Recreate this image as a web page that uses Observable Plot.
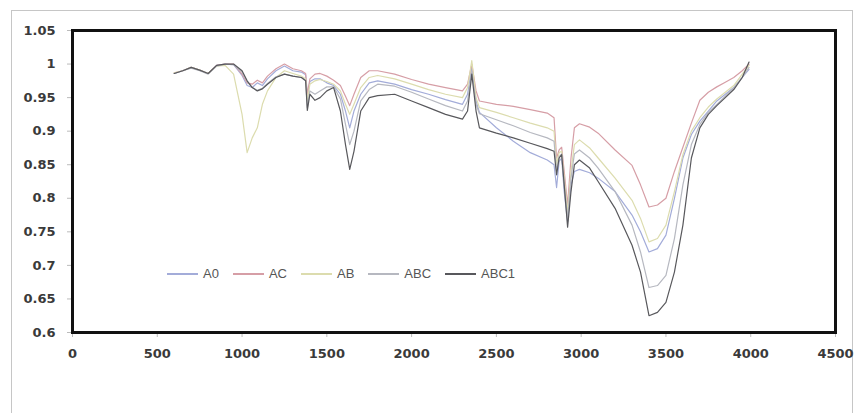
<!DOCTYPE html>
<html>
<head>
<meta charset="utf-8">
<script src="https://cdn.jsdelivr.net/npm/d3@7"></script>
<script src="https://cdn.jsdelivr.net/npm/@observablehq/plot@0.6"></script>
<style>
  html, body { margin: 0; padding: 0; background: #fff; }
  #wrap { position: relative; width: 860px; height: 413px; overflow: hidden; }
  #outer { position: absolute; left: 11px; top: 10px; width: 842px; height: 440px; border: 1px solid #c6c6c6; box-sizing: border-box; }
  #chart { position: absolute; left: 0; top: 0; }
  #legend { position: absolute; left: 167px; top: 266px; display: flex; gap: 14px; align-items: center;
            font-family: "Liberation Sans", Arial, sans-serif; font-size: 13px; color: #555; }
  #legend .item { display: flex; align-items: center; gap: 5px; }
  #legend .sw { display: inline-block; width: 31px; height: 2px; }
</style>
</head>
<body>
<div id="wrap">
  <div id="outer"></div>
  <div id="chart"></div>
  <div id="legend"></div>
</div>
<script>
const seriesNames = ["A0", "AC", "AB", "ABC", "ABC1"];
const seriesColors = ["#a3acd9", "#d69ea6", "#dcdcae", "#b6b8c0", "#58585c"];
const xTicks = [0, 500, 1000, 1500, 2000, 2500, 3000, 3500, 4000, 4500];
const yTicks = [0.6, 0.65, 0.7, 0.75, 0.8, 0.85, 0.9, 0.95, 1, 1.05];

const wavenumber = [
  600, 650, 700, 750, 800, 850, 900, 950,
  1000, 1030, 1060, 1090, 1120, 1150, 1200, 1250,
  1300, 1350, 1375, 1385, 1400, 1430, 1460, 1500,
  1540, 1580, 1610, 1635, 1660, 1700, 1750, 1800,
  1900, 2000, 2100, 2200, 2300, 2330, 2355, 2380,
  2400, 2500, 2600, 2700, 2800, 2840, 2855, 2870,
  2885, 2900, 2920, 2940, 2960, 2990, 3050, 3100,
  3200, 3300, 3350, 3400, 3450, 3500, 3550, 3600,
  3650, 3700, 3750, 3800, 3850, 3900, 3950, 3990
];

const A0 = [
  0.986, 0.990, 0.995, 0.991, 0.986, 0.998, 1.000, 0.999,
  0.983, 0.968, 0.965, 0.972, 0.968, 0.978, 0.990, 0.997,
  0.990, 0.988, 0.984, 0.950, 0.974, 0.978, 0.978, 0.972,
  0.968, 0.955, 0.930, 0.905, 0.930, 0.955, 0.972, 0.975,
  0.970, 0.962, 0.955, 0.947, 0.940, 0.955, 0.995, 0.945,
  0.928, 0.905, 0.885, 0.868, 0.857, 0.850, 0.816, 0.855,
  0.860, 0.810, 0.765, 0.820, 0.840, 0.843, 0.838, 0.830,
  0.810, 0.775, 0.750, 0.720, 0.725, 0.745, 0.800, 0.860,
  0.895, 0.915, 0.930, 0.945, 0.955, 0.965, 0.980, 0.992
];

const AC = [
  0.987, 0.990, 0.995, 0.991, 0.986, 0.998, 1.000, 1.000,
  0.985, 0.972, 0.970, 0.976, 0.972, 0.982, 0.993, 1.000,
  0.993, 0.990, 0.986, 0.955, 0.978, 0.985, 0.986, 0.982,
  0.976, 0.968, 0.952, 0.938, 0.955, 0.980, 0.990, 0.990,
  0.985, 0.977, 0.970, 0.965, 0.960, 0.970, 1.000, 0.960,
  0.945, 0.940, 0.937, 0.932, 0.927, 0.920, 0.860, 0.872,
  0.876, 0.840, 0.790, 0.860, 0.905, 0.911, 0.906, 0.897,
  0.872, 0.849, 0.820, 0.787, 0.790, 0.800, 0.840, 0.876,
  0.912, 0.946, 0.958, 0.966, 0.973, 0.980, 0.990, 1.000
];

const AB = [
  0.987, 0.990, 0.995, 0.991, 0.986, 0.997, 0.998, 0.985,
  0.925, 0.868, 0.890, 0.905, 0.940, 0.960, 0.980, 0.990,
  0.986, 0.982, 0.978, 0.945, 0.970, 0.975, 0.977, 0.974,
  0.970, 0.960, 0.940, 0.925, 0.940, 0.965, 0.980, 0.983,
  0.978, 0.970, 0.962, 0.955, 0.950, 0.965, 1.005, 0.950,
  0.935, 0.928, 0.920, 0.912, 0.905, 0.900, 0.850, 0.868,
  0.870, 0.830, 0.780, 0.840, 0.880, 0.887, 0.875, 0.860,
  0.830, 0.797, 0.770, 0.735, 0.740, 0.760, 0.810, 0.865,
  0.900, 0.920, 0.936, 0.948, 0.958, 0.968, 0.985, 0.998
];

const ABC = [
  0.986, 0.990, 0.994, 0.990, 0.985, 0.997, 1.000, 0.999,
  0.988, 0.974, 0.965, 0.961, 0.964, 0.971, 0.981, 0.985,
  0.982, 0.980, 0.976, 0.935, 0.960, 0.955, 0.960, 0.966,
  0.966, 0.948, 0.910, 0.880, 0.900, 0.945, 0.962, 0.970,
  0.967, 0.958, 0.948, 0.938, 0.930, 0.945, 0.990, 0.940,
  0.926, 0.917, 0.908, 0.898, 0.890, 0.885, 0.840, 0.862,
  0.866, 0.820, 0.770, 0.830, 0.866, 0.872, 0.860, 0.845,
  0.810, 0.760, 0.720, 0.667, 0.670, 0.685, 0.740, 0.820,
  0.880, 0.910, 0.928, 0.940, 0.952, 0.965, 0.980, 0.995
];

const ABC1 = [
  0.986, 0.990, 0.995, 0.991, 0.986, 0.998, 1.000, 1.000,
  0.990, 0.975, 0.965, 0.960, 0.963, 0.970, 0.980, 0.985,
  0.982, 0.980, 0.975, 0.931, 0.955, 0.946, 0.950, 0.960,
  0.965, 0.930, 0.880, 0.843, 0.870, 0.930, 0.950, 0.953,
  0.955, 0.945, 0.935, 0.925, 0.918, 0.930, 0.985, 0.930,
  0.905, 0.897, 0.890, 0.882, 0.874, 0.870, 0.835, 0.860,
  0.865, 0.820, 0.757, 0.810, 0.850, 0.857, 0.845, 0.825,
  0.785, 0.730, 0.690, 0.625, 0.630, 0.645, 0.690, 0.760,
  0.860, 0.905, 0.925, 0.938, 0.950, 0.962, 0.980, 1.003
];

const seriesValues = [A0, AC, AB, ABC, ABC1];

const tables = seriesValues.map((vals, i) =>
  wavenumber.map((w, j) => ({ w, v: vals[j], s: seriesNames[i] }))
);

const chart = Plot.plot({
  width: 860,
  height: 413,
  marginLeft: 72,
  marginRight: 25,
  marginTop: 30,
  marginBottom: 81,
  style: { fontFamily: "'DejaVu Sans', sans-serif", fontSize: "13px", fontWeight: "bold", color: "#3a3a3a", background: "transparent" },
  x: { domain: [0, 4500], label: null },
  y: { domain: [0.6, 1.05], label: null },
  marks: [
    ...tables.map((t, i) => Plot.line(t, { x: "w", y: "v", stroke: seriesColors[i], strokeWidth: 1.2 })),
    Plot.axisX({ ticks: xTicks, tickSize: 5, tickPadding: 11, stroke: "#bbb", label: null, tickFormat: d => String(d) }),
    Plot.axisY({ ticks: yTicks, tickSize: 5, tickPadding: 12, stroke: "#bbb", label: null, tickFormat: d => String(d) }),
    Plot.frame({ stroke: "#111", strokeWidth: 3 })
  ]
});
document.getElementById("chart").appendChild(chart);

const legend = document.getElementById("legend");
seriesNames.forEach((name, i) => {
  const item = document.createElement("div");
  item.className = "item";
  const sw = document.createElement("span");
  sw.className = "sw";
  sw.style.background = seriesColors[i];
  const lab = document.createElement("span");
  lab.textContent = name;
  item.appendChild(sw);
  item.appendChild(lab);
  legend.appendChild(item);
});
</script>
</body>
</html>
